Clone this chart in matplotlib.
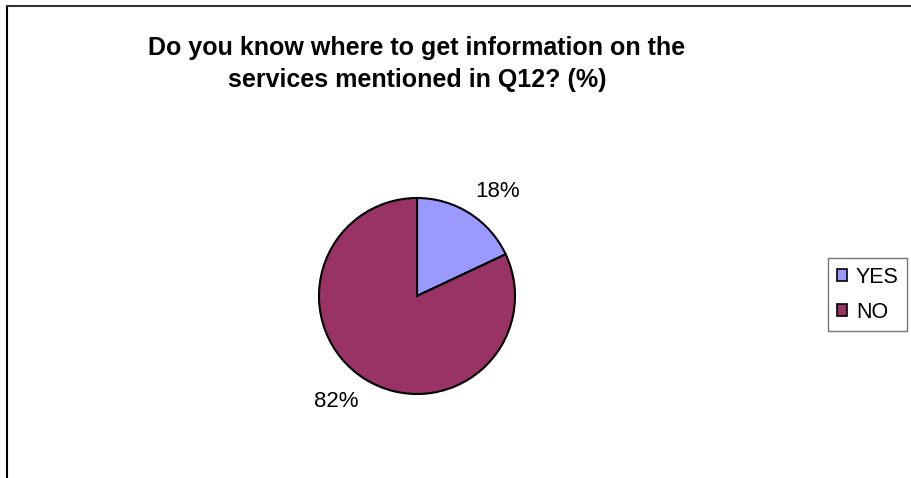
import matplotlib
matplotlib.use("Agg")
import matplotlib.pyplot as plt
from matplotlib.patches import Patch
from matplotlib.lines import Line2D

plt.rcParams['font.family'] = ['Liberation Sans', 'DejaVu Sans']

# data
labels = ["YES", "NO"]
values = [18, 82]
colors = ["#9999FF", "#993366"]
title = "Do you know where to get information on the\nservices mentioned in Q12? (%)"

W, H = 911, 478
fig = plt.figure(figsize=(W / 100, H / 100), dpi=100)

# pie centre ~ (417, 296) px, radius ~98 px
cx, cy, r = 417, 296, 98
ax = fig.add_axes([(cx - r) / W, (H - cy - r) / H, 2 * r / W, 2 * r / H])

wedges, texts, autotexts = ax.pie(values, colors=colors, startangle=90, counterclock=False,
                                  autopct="%d%%", pctdistance=1.3,
                                  wedgeprops=dict(edgecolor="black", linewidth=1.5))
ax.set_xlim(-1, 1)
ax.set_ylim(-1, 1)

# excel-ish label positions
label_pos = [(0.82, 1.07), (-0.82, -1.08)]
for t, p in zip(autotexts, label_pos):
    t.set_position(p)
    t.set_ha("center")
    t.set_va("center")
    t.set_fontsize(16)
    t.set_color("black")

fig.text(417 / W, 1 - 64 / H, title, ha="center", va="center",
         fontsize=18, fontweight="bold", linespacing=1.4)

handles = [Patch(facecolor=c, edgecolor="black", linewidth=1.2) for c in colors]
leg = fig.legend(handles, labels, loc="upper left",
                 bbox_to_anchor=(828 / W, 1 - 258 / H), fontsize=15.5,
                 frameon=True, fancybox=False, handlelength=0.5, handleheight=0.5,
                 handletextpad=0.4, borderpad=0.4, labelspacing=0.65, borderaxespad=0)
leg.get_frame().set_edgecolor("#555555")
leg.get_frame().set_linewidth(1)

# chart area border (left and top)
fig.add_artist(Line2D([7 / W, 7 / W], [0, 1 - 6 / H], color="black", linewidth=1.5))
fig.add_artist(Line2D([7 / W, 1], [1 - 6 / H, 1 - 6 / H], color="#333333", linewidth=1.5))

fig.savefig("out.png", dpi=100)
